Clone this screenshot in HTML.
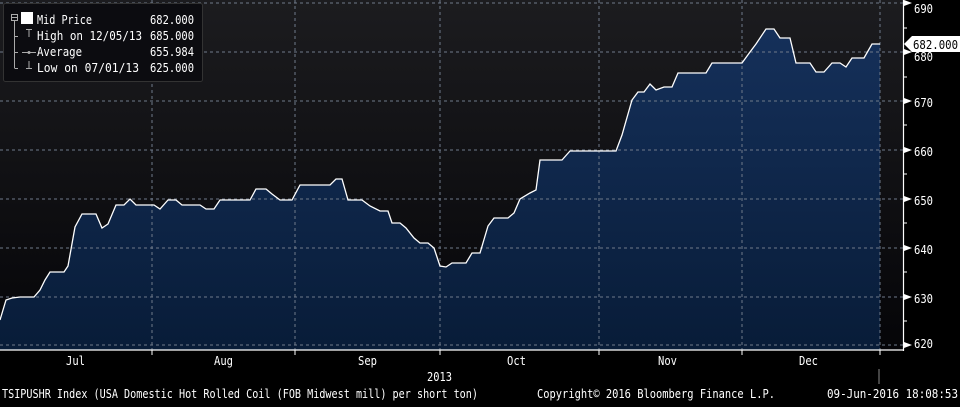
<!DOCTYPE html>
<html><head><meta charset="utf-8"><style>
body{margin:0;background:#000;width:960px;height:402px;overflow:hidden;}
</style></head><body>
<svg width="960" height="402" xmlns="http://www.w3.org/2000/svg" font-family="DejaVu Sans Mono, Liberation Mono, monospace">
<defs>
<linearGradient id="bg" x1="0" y1="0" x2="0" y2="1"><stop offset="0" stop-color="#1c1c1f"/><stop offset="1" stop-color="#050508"/></linearGradient>
<linearGradient id="fill" x1="0" y1="0" x2="0" y2="1"><stop offset="0" stop-color="#15305a"/><stop offset="1" stop-color="#081c38"/></linearGradient>
</defs>
<rect x="0" y="0" width="903" height="350" fill="url(#bg)"/>
<polygon fill="url(#fill)" points="0,350 0,320 6,300 12,298 20,297 34,297 40,290 45,280 50,272 64,272 68,266 75,227 82,214 96,214 102,228 108,224 116,205 124,205 130,199 136,205 154,205 160,209 168,200 176,200 182,205 200,205 206,209 214,209 220,200 250,200 256,189 266,189 272,194 280,200 292,200 300,185 330,185 336,179 342,179 348,200 362,200 370,206 380,211 388,211 392,223 400,223 406,228 414,238 420,243 428,243 434,248 440,266 446,267 452,263 466,263 472,253 480,253 488,226 494,218 508,218 514,213 520,199 530,193 536,190 540,160 562,160 570,151 616,151 622,135 632,100 638,92 644,92 650,84 656,90 664,87 672,87 678,73 706,73 712,63 742,63 750,52 756,44 766,29 774,29 780,38 790,38 796,63 810,63 816,72 824,72 832,63 840,63 846,67 852,58 864,58 872,44 880,44 880,350"/>
<g stroke="#6f7a8a" stroke-width="1" stroke-dasharray="3,3" fill="none">
<line x1="0" y1="3" x2="903" y2="3"/><line x1="0" y1="52" x2="903" y2="52"/><line x1="0" y1="101" x2="903" y2="101"/><line x1="0" y1="150" x2="903" y2="150"/><line x1="0" y1="199" x2="903" y2="199"/><line x1="0" y1="248" x2="903" y2="248"/><line x1="0" y1="297" x2="903" y2="297"/><line x1="0" y1="345" x2="903" y2="345"/>
<line x1="152" y1="0" x2="152" y2="350"/><line x1="295" y1="0" x2="295" y2="350"/><line x1="440" y1="0" x2="440" y2="350"/><line x1="599" y1="0" x2="599" y2="350"/><line x1="742" y1="0" x2="742" y2="350"/><line x1="880" y1="0" x2="880" y2="350"/>
</g>
<polyline fill="none" stroke="#fff" stroke-width="1.3" points="0,320 6,300 12,298 20,297 34,297 40,290 45,280 50,272 64,272 68,266 75,227 82,214 96,214 102,228 108,224 116,205 124,205 130,199 136,205 154,205 160,209 168,200 176,200 182,205 200,205 206,209 214,209 220,200 250,200 256,189 266,189 272,194 280,200 292,200 300,185 330,185 336,179 342,179 348,200 362,200 370,206 380,211 388,211 392,223 400,223 406,228 414,238 420,243 428,243 434,248 440,266 446,267 452,263 466,263 472,253 480,253 488,226 494,218 508,218 514,213 520,199 530,193 536,190 540,160 562,160 570,151 616,151 622,135 632,100 638,92 644,92 650,84 656,90 664,87 672,87 678,73 706,73 712,63 742,63 750,52 756,44 766,29 774,29 780,38 790,38 796,63 810,63 816,72 824,72 832,63 840,63 846,67 852,58 864,58 872,44 880,44"/>
<line x1="0" y1="350" x2="904" y2="350" stroke="#fff" stroke-width="1.2"/>
<line x1="903.5" y1="0" x2="903.5" y2="351" stroke="#fff" stroke-width="1.2"/>
<g stroke="#fff" stroke-width="1"><line x1="152" y1="350" x2="152" y2="355"/><line x1="295" y1="350" x2="295" y2="355"/><line x1="440" y1="350" x2="440" y2="355"/><line x1="599" y1="350" x2="599" y2="355"/><line x1="742" y1="350" x2="742" y2="355"/><line x1="880" y1="350" x2="880" y2="355"/>
<line x1="879" y1="369" x2="879" y2="384" stroke="#888"/>
<line x1="903" y1="28" x2="907" y2="28"/><line x1="903" y1="77" x2="907" y2="77"/><line x1="903" y1="125" x2="907" y2="125"/><line x1="903" y1="174" x2="907" y2="174"/><line x1="903" y1="223" x2="907" y2="223"/><line x1="903" y1="272" x2="907" y2="272"/><line x1="903" y1="321" x2="907" y2="321"/></g>
<g fill="#fff"><polygon points="904,0 912,3 904,6"/><polygon points="904,49 912,52 904,55"/><polygon points="904,98 912,101 904,104"/><polygon points="904,147 912,150 904,153"/><polygon points="904,196 912,199 904,202"/><polygon points="904,245 912,248 904,251"/><polygon points="904,294 912,297 904,300"/><polygon points="904,342 912,345 904,348"/></g>
<g fill="#fff" font-size="12">
<text x="914" y="13" textLength="19" lengthAdjust="spacingAndGlyphs">690</text><text x="914" y="61" textLength="19" lengthAdjust="spacingAndGlyphs">680</text><text x="914" y="107" textLength="19" lengthAdjust="spacingAndGlyphs">670</text><text x="914" y="156" textLength="19" lengthAdjust="spacingAndGlyphs">660</text><text x="914" y="205" textLength="19" lengthAdjust="spacingAndGlyphs">650</text><text x="914" y="254" textLength="19" lengthAdjust="spacingAndGlyphs">640</text><text x="914" y="303" textLength="19" lengthAdjust="spacingAndGlyphs">630</text><text x="914" y="348" textLength="19" lengthAdjust="spacingAndGlyphs">620</text>
</g>
<polygon points="904,44 912,36 960,36 960,52 912,52" fill="#fff"/>
<text x="913" y="49" font-size="12" fill="#000" textLength="45" lengthAdjust="spacingAndGlyphs">682.000</text>
<g fill="#fff" font-size="12">
<text x="66" y="365" textLength="19" lengthAdjust="spacingAndGlyphs">Jul</text><text x="214" y="365" textLength="19" lengthAdjust="spacingAndGlyphs">Aug</text><text x="358" y="365" textLength="19" lengthAdjust="spacingAndGlyphs">Sep</text><text x="507" y="365" textLength="19" lengthAdjust="spacingAndGlyphs">Oct</text><text x="658" y="365" textLength="19" lengthAdjust="spacingAndGlyphs">Nov</text><text x="799" y="365" textLength="19" lengthAdjust="spacingAndGlyphs">Dec</text>
<text x="427" y="381" textLength="25" lengthAdjust="spacingAndGlyphs">2013</text>
</g>
<g fill="#fff" font-size="12">
<text x="2" y="398" textLength="476" lengthAdjust="spacingAndGlyphs">TSIPUSHR Index (USA Domestic Hot Rolled Coil (FOB Midwest mill) per short ton)</text>
<text x="537" y="398" textLength="238" lengthAdjust="spacingAndGlyphs">Copyright© 2016 Bloomberg Finance L.P.</text>
<text x="827" y="398" textLength="131" lengthAdjust="spacingAndGlyphs">09-Jun-2016 18:08:53</text>
</g>
<rect x="3.5" y="3.5" width="199" height="78" rx="2" fill="#0c0c10" stroke="#333" stroke-width="1"/>
<g stroke="#aaa" stroke-width="1" fill="none"><rect x="11.5" y="14.5" width="6" height="6"/><line x1="12" y1="17.5" x2="17" y2="17.5"/><line x1="14.5" y1="21" x2="14.5" y2="68"/><line x1="14.5" y1="36.5" x2="18" y2="36.5"/><line x1="14.5" y1="52.5" x2="18" y2="52.5"/><line x1="14.5" y1="68.5" x2="18" y2="68.5"/>
<line x1="26" y1="29.5" x2="32" y2="29.5"/><line x1="29" y1="29.5" x2="29" y2="37"/><line x1="22" y1="52.5" x2="36" y2="52.5"/><line x1="26" y1="68.5" x2="32" y2="68.5"/><line x1="29" y1="61" x2="29" y2="68.5"/></g>
<circle cx="29" cy="52.5" r="1.5" fill="#aaa"/>
<rect x="21" y="12" width="12" height="12" fill="#fff"/>
<g fill="#fff" font-size="12">
<text x="37" y="24" textLength="55" lengthAdjust="spacingAndGlyphs">Mid Price</text><text x="150" y="24" textLength="44" lengthAdjust="spacingAndGlyphs">682.000</text>
<text x="37" y="40" textLength="105" lengthAdjust="spacingAndGlyphs">High on 12/05/13</text><text x="150" y="40" textLength="44" lengthAdjust="spacingAndGlyphs">685.000</text>
<text x="37" y="56" textLength="45" lengthAdjust="spacingAndGlyphs">Average</text><text x="150" y="56" textLength="44" lengthAdjust="spacingAndGlyphs">655.984</text>
<text x="37" y="72" textLength="102" lengthAdjust="spacingAndGlyphs">Low on 07/01/13</text><text x="150" y="72" textLength="44" lengthAdjust="spacingAndGlyphs">625.000</text>
</g>
</svg>
</body></html>
